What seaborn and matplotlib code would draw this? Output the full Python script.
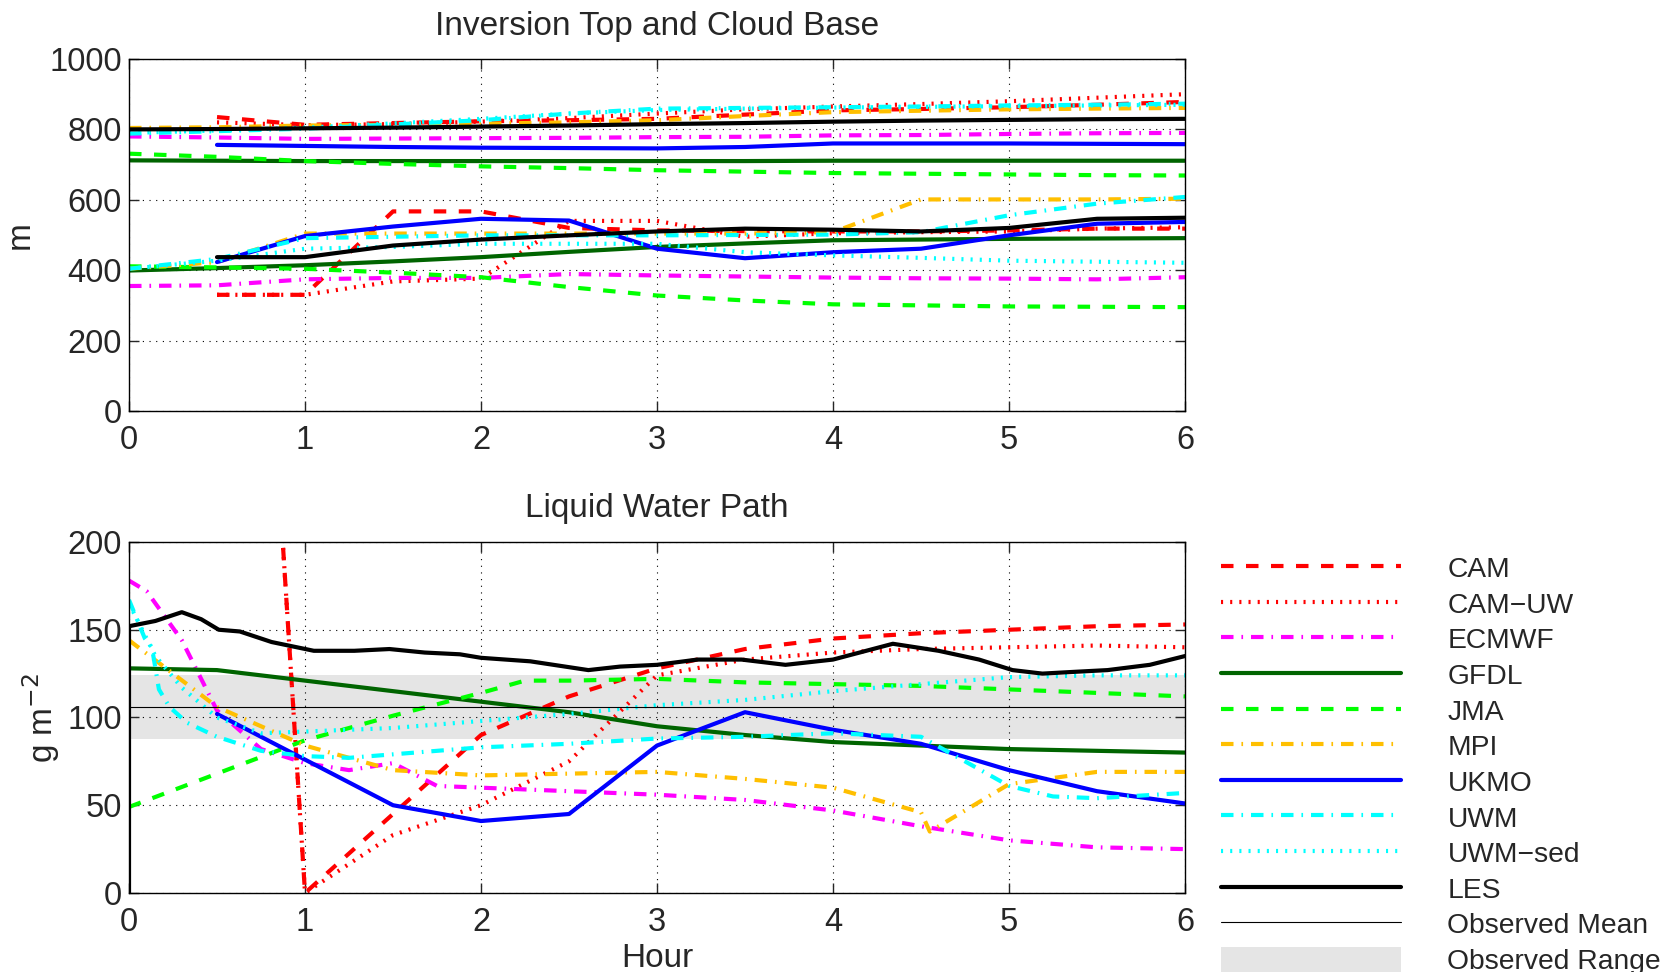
import matplotlib
matplotlib.use("Agg")
import matplotlib.pyplot as plt
import seaborn as sns
from matplotlib.patches import Patch

# ------------------------------------------------------------
# Data
# ------------------------------------------------------------
# top panel: inversion top (zi) and cloud base (zb), metres
t_half = [0, 0.5, 1, 1.5, 2, 2.5, 3, 3.5, 4, 4.5, 5, 5.5, 6]
t_late = [0.5, 1, 1.5, 2, 2.5, 3, 3.5, 4, 4.5, 5, 5.5, 6]

cam_zi = [835, 813, 818, 823, 826, 830, 842, 854, 858, 863, 870, 878]
cam_zb = [330, 330, 567, 567, 520, 513, 511, 510, 510, 513, 518, 518]
camuw_zi = [820, 812, 815, 822, 832, 845, 857, 865, 872, 880, 890, 900]
camuw_zb = [330, 330, 368, 376, 540, 540, 495, 505, 508, 510, 518, 522]
ecmwf_zi = [780, 777, 773, 774, 775, 776, 778, 779, 783, 784, 787, 789, 790]
ecmwf_zb = [355, 357, 374, 378, 378, 389, 385, 382, 379, 377, 376, 374, 380]
gfdl_zi = [712, 711, 710, 710, 710, 710, 710, 710, 711, 711, 711, 711, 711]
gfdl_zb = [399, 406, 414, 425, 437, 452, 466, 476, 485, 487, 489, 490, 491]
jma_zi = [731, 722, 710, 702, 695, 690, 684, 680, 676, 674, 672, 670, 669]
jma_zb = [411, 408, 404, 393, 380, 352, 328, 314, 303, 300, 297, 296, 295]
mpi_zi = [804, 806, 811, 813, 816, 820, 826, 838, 849, 853, 857, 859, 861]
mpi_zb = [404, 423, 504, 504, 504, 504, 504, 504, 508, 601, 601, 601, 603]
ukmo_zi = [756, 753, 750, 748, 747, 746, 750, 760, 760, 760, 759, 758]
ukmo_zb = [423, 497, 524, 546, 541, 461, 434, 451, 461, 499, 532, 537]
uwm_zi = [788, 795, 802, 814, 826, 845, 859, 861, 863, 865, 868, 870, 873]
uwm_zb = [404, 432, 491, 495, 499, 499, 499, 500, 501, 508, 556, 589, 608]
uwmsed_zi = [790, 797, 805, 817, 830, 845, 855, 859, 862, 864, 866, 868, 870]
uwmsed_zb = [404, 427, 461, 466, 475, 475, 475, 451, 442, 435, 427, 424, 421]
les_zi = [800, 801, 803, 805, 808, 811, 815, 818, 822, 825, 827, 829, 830]
les_zb = [437, 437, 470, 487, 499, 510, 518, 515, 510, 520, 546, 549]

# bottom panel: liquid water path, g m-2
cam_t = [0.5, 1, 1.5, 2, 2.5, 3, 3.5, 4, 4.5, 5, 5.5, 6]
cam_lwp = [790, 0, 45, 90, 112, 128, 139, 145, 148, 150, 152, 153]
camuw_lwp = [790, 0, 33, 50, 75, 124, 133, 137, 139, 140, 141, 140]
ecmwf_t = [0, 0.1, 0.3, 0.5, 0.75, 1, 1.25, 1.5, 1.75, 2, 2.5, 3, 3.5, 4, 4.5, 5, 5.5, 6]
ecmwf_lwp = [178, 172, 144, 104, 82, 74, 70, 74, 61, 60, 58, 56, 53, 47, 38, 30, 26, 25]
gfdl_lwp = [128, 127, 121, 115, 109, 103, 95, 90, 86, 84, 82, 81, 80]
jma_t = [0, 0.5, 1, 1.5, 2, 2.25, 2.5, 3, 3.5, 4, 4.5, 5, 5.5, 6]
jma_lwp = [49, 68, 87, 101, 114, 121, 121, 122, 120, 119, 118, 116, 114, 112]
mpi_t = [0, 0.5, 1, 1.5, 2, 2.5, 3, 3.5, 4, 4.5, 4.55, 5, 5.5, 6]
mpi_lwp = [144, 106, 84, 70, 67, 68, 69, 65, 60, 46, 35, 62, 69, 69]
ukmo_lwp = [102, 76, 50, 41, 45, 84, 103, 93, 85, 70, 58, 51]
uwm_t = [0, 0.09, 0.13, 0.17, 0.23, 0.33, 0.5, 0.75, 1, 1.25, 1.5, 2, 2.5, 3,
         3.5, 4, 4.5, 4.75, 5, 5.25, 5.5, 6]
uwm_lwp = [167, 145, 140, 116, 106, 97, 89, 81, 78, 77, 79, 83, 85, 88,
           89, 91, 89, 75, 61, 55, 54, 57]
uwmsed_t = [0, 0.15, 0.3, 0.5, 0.75, 1, 1.5, 2, 2.5, 3, 3.5, 4, 4.5, 5, 5.5, 6]
uwmsed_lwp = [165, 135, 117, 100, 91, 92, 94, 98, 102, 107, 110, 115, 119, 123, 124, 124]
les_t = [0, 0, 0.15, 0.3, 0.41, 0.51, 0.63, 0.81, 1.05, 1.28, 1.48, 1.68, 1.88, 2.0,
         2.28, 2.61, 2.79, 3.0, 3.23, 3.48, 3.73, 4.0, 4.34, 4.6, 4.83, 5.02, 5.19,
         5.37, 5.56, 5.8, 6.0]
les_lwp = [0, 152, 155, 160, 156, 150, 149, 143, 138, 138, 139, 137, 136, 134,
           132, 127, 129, 130, 133, 133, 130, 133, 142, 138, 133, 127, 125,
           126, 127, 130, 135]

obs_t = [0, 6]
obs_mean = [106, 106]
obs_lo = [88, 88]
obs_hi = [124, 124]

# ------------------------------------------------------------
# Styles (MATLAB-like)
# ------------------------------------------------------------
DASH = (0, (3.0, 3.0))
DOT = (0, (0.5, 1.7))
DASHDOT = (0, (3.0, 1.9, 0.4, 1.9))
LW = 3.0

models = [
    ("CAM", "#ff0000", DASH, cam_zi, cam_zb, cam_t, cam_lwp),
    ("CAM\u2212UW", "#ff0000", DOT, camuw_zi, camuw_zb, cam_t, camuw_lwp),
    ("ECMWF", "#ff00ff", DASHDOT, ecmwf_zi, ecmwf_zb, ecmwf_t, ecmwf_lwp),
    ("GFDL", "#006400", "-", gfdl_zi, gfdl_zb, t_half, gfdl_lwp),
    ("JMA", "#00ff00", DASH, jma_zi, jma_zb, jma_t, jma_lwp),
    ("MPI", "#ffbf00", DASHDOT, mpi_zi, mpi_zb, mpi_t, mpi_lwp),
    ("UKMO", "#0000ff", "-", ukmo_zi, ukmo_zb, t_late, ukmo_lwp),
    ("UWM", "#00ffff", DASHDOT, uwm_zi, uwm_zb, uwm_t, uwm_lwp),
    ("UWM\u2212sed", "#00ffff", DOT, uwmsed_zi, uwmsed_zb, uwmsed_t, uwmsed_lwp),
]

sns.set_style("ticks")
plt.rcParams["font.family"] = ["Liberation Sans", "DejaVu Sans"]
plt.rcParams["axes.edgecolor"] = "black"
plt.rcParams["axes.linewidth"] = 1.0

fig = plt.figure(figsize=(16.69, 9.72), dpi=100)
ax1 = fig.add_axes([0.0773, 0.5772, 0.6327, 0.3621])
ax2 = fig.add_axes([0.0773, 0.0813, 0.6327, 0.3611])

# ------------------------------------------------------------
# Top panel
# ------------------------------------------------------------
for name, col, ls, zi, zb, tl, lwp in models:
    t_zi = t_late if len(zi) == len(t_late) else t_half
    t_zb = t_late if len(zb) == len(t_late) else t_half
    sns.lineplot(x=t_zi, y=zi, ax=ax1, color=col, linestyle=ls, linewidth=LW,
                 estimator=None, sort=False, legend=False)
    sns.lineplot(x=t_zb, y=zb, ax=ax1, color=col, linestyle=ls, linewidth=LW,
                 estimator=None, sort=False, legend=False)
sns.lineplot(x=t_half, y=les_zi, ax=ax1, color="black", linewidth=LW,
             estimator=None, sort=False, legend=False)
sns.lineplot(x=t_late, y=les_zb, ax=ax1, color="black", linewidth=LW,
             estimator=None, sort=False, legend=False)

ax1.set_ylim(0, 1000)
ax1.set_yticks([0, 200, 400, 600, 800, 1000])
ax1.set_title("Inversion Top and Cloud Base", fontsize=24, pad=17)
ax1.set_ylabel("m", fontsize=24)
ax1.yaxis.set_label_coords(-0.088, 0.5)

# ------------------------------------------------------------
# Bottom panel
# ------------------------------------------------------------
ax2.fill_between(obs_t, obs_lo, obs_hi, color="#e5e5e5", linewidth=0, zorder=0.5)
for name, col, ls, zi, zb, tl, lwp in models:
    sns.lineplot(x=tl, y=lwp, ax=ax2, color=col, linestyle=ls, linewidth=LW,
                 estimator=None, sort=False, legend=False, label=name)
sns.lineplot(x=les_t, y=les_lwp, ax=ax2, color="black", linewidth=LW,
             estimator=None, sort=False, legend=False, label="LES")
sns.lineplot(x=obs_t, y=obs_mean, ax=ax2, color="black", linewidth=0.8,
             estimator=None, sort=False, legend=False, label="Observed Mean")

ax2.set_ylim(0, 200)
ax2.set_yticks([0, 50, 100, 150, 200])
ax2.set_title("Liquid Water Path", fontsize=24, pad=18)
ax2.set_ylabel("g m$^{\u22122}$", fontsize=24)
ax2.yaxis.set_label_coords(-0.063, 0.5)
ax2.set_xlabel("Hour", fontsize=24, labelpad=4)

for ax in (ax1, ax2):
    ax.set_xlim(0, 6)
    ax.set_xticks(range(7))
    ax.grid(True, color="black", linestyle=(0, (1, 5)), linewidth=0.8)
    ax.set_axisbelow(True)
    ax.tick_params(direction="in", length=7.5, width=1, labelsize=23.5,
                   top=True, right=True, pad=10)
    ax.tick_params(axis="y", pad=5)
    for s in ax.spines.values():
        s.set_visible(True)
        s.set_color("black")
        s.set_zorder(5)

# ------------------------------------------------------------
# Legend
# ------------------------------------------------------------
handles, labels = ax2.get_legend_handles_labels()
handles.append(Patch(facecolor="#e5e5e5", edgecolor="none"))
labels.append("Observed Range")
fig.legend(handles, labels, loc="upper left",
           bbox_to_anchor=(1221 / 1669, 1 - 555 / 972),
           frameon=False, fontsize=20.3, borderpad=0, borderaxespad=0,
           handlelength=6.4, handleheight=1.0, handletextpad=1.63,
           labelspacing=0.26)

fig.savefig("out.png", dpi=100)
